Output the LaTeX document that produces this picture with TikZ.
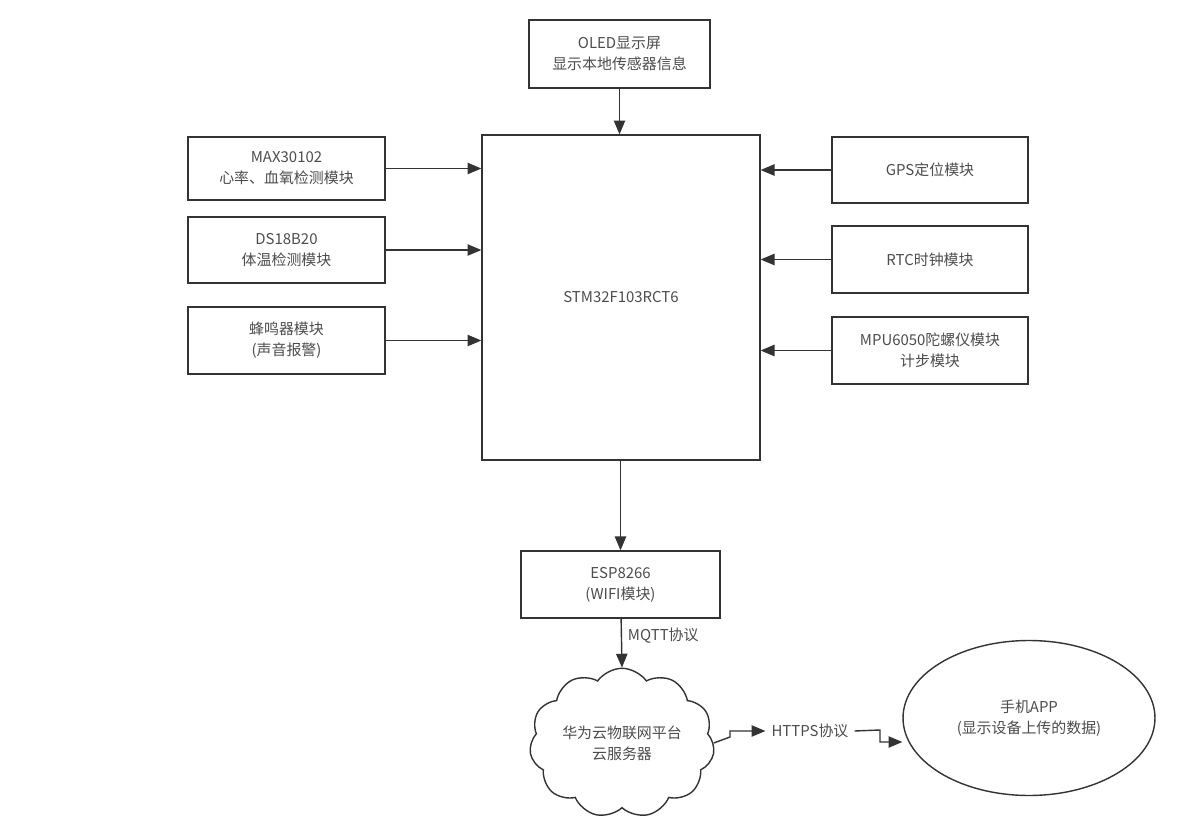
\documentclass[tikz,border=0pt]{standalone}
\usepackage{fontspec}
\setmainfont{Noto Sans CJK SC}
\usetikzlibrary{arrows,positioning,shapes.symbols,shapes.geometric}
\tikzset{
  blk/.style={draw=black!80,thick,align=center,text=black!70,font=\fontsize{8.5}{12}\selectfont},
  myarrow/.style={->,>=triangle 45,thick,draw=black!80}
}
\begin{document}
\begin{tikzpicture}[x=0.02cm,y=-0.02cm]
  \useasboundingbox (0,0) rectangle (1204,828);
  \node[blk,minimum width=3.62cm,minimum height=1.36cm] (oled) at (619.5,54) {OLED显示屏\\显示本地传感器信息};
  \node[blk,minimum width=5.56cm,minimum height=6.5cm]  (stm)  at (621,297.5) {STM32F103RCT6};
  \node[blk,minimum width=3.94cm,minimum height=1.26cm] (max)  at (286.5,168.5) {MAX30102\\心率、血氧检测模块};
  \node[blk,minimum width=3.94cm,minimum height=1.32cm] (ds)   at (286.5,250) {DS18B20\\体温检测模块};
  \node[blk,minimum width=3.94cm,minimum height=1.34cm] (buzz) at (286.5,340.5) {蜂鸣器模块\\(声音报警)};
  \node[blk,minimum width=3.92cm,minimum height=1.32cm] (gps)  at (930,170) {GPS定位模块};
  \node[blk,minimum width=3.92cm,minimum height=1.34cm] (rtc)  at (930,259.5) {RTC时钟模块};
  \node[blk,minimum width=3.92cm,minimum height=1.34cm] (mpu)  at (930,350.5) {MPU6050陀螺仪模块\\计步模块};
  \node[blk,minimum width=3.98cm,minimum height=1.34cm] (esp)  at (620.5,584.5) {ESP8266\\(WIFI模块)};
  \node[blk,cloud,cloud puffs=11,cloud puff arc=110,aspect=1.3,minimum width=3.7cm,minimum height=2.8cm,inner sep=0pt] (cloud) at (622,743) {华为云物联网平台\\云服务器};
  \node[blk,ellipse,minimum width=5.04cm,minimum height=3.1cm] (app) at (1029,718) {手机APP\\(显示设备上传的数据)};
  \node[text=black!70,font=\fontsize{8.5}{12}\selectfont] (https) at (810,731) {HTTPS协议};
  \coordinate (c1) at (730,737);
  \coordinate (c2) at (880,730);

  \draw[myarrow] (oled) -- (stm.north -| oled);
  \foreach \b in {max,ds,buzz}
    \draw[myarrow] (\b.east) -- (\b.east -| stm.west);
  \foreach \b in {gps,rtc,mpu}
    \draw[myarrow] (\b.west) -- (\b.west -| stm.east);
  \draw[myarrow] (stm.south -| esp) -- (esp);
  \draw[myarrow] (esp) -- node[right,text=black!70,font=\fontsize{8.5}{12}\selectfont,pos=0.35] {MQTT协议} (cloud.north);
  \draw[myarrow] (cloud.east) -- (c1) |- (https.west);
  \draw[myarrow] (https.east) -- (c2) |- (app.west |- 0,742);
\end{tikzpicture}
\end{document}
